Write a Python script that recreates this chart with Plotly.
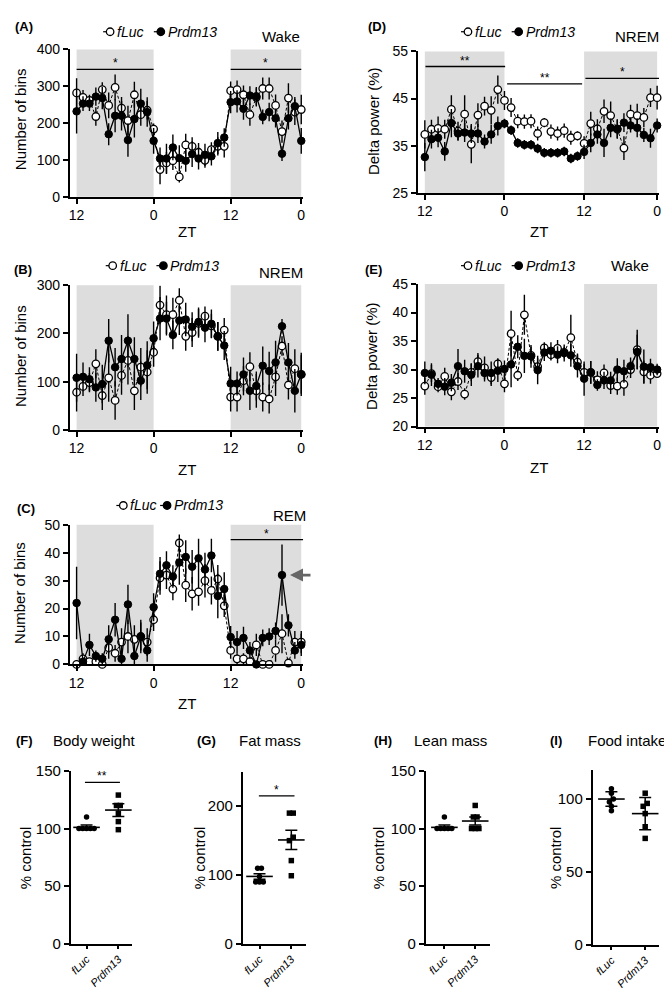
import plotly.graph_objects as go

W, H = 672, 992
FONT = "Liberation Sans, Arial, Helvetica, sans-serif"
INK = "black"
SHADE = "#dddddd"

# ---------------- shared time axis ----------------
HOURS = list(range(36))
ZT_TICKVALS = [0, 12, 24, 35]
ZT_TICKTEXT = ["12", "0", "12", "0"]
DARK = [(0, 12), (24, 35)]

# ---------------- (A) Wake, number of bins ----------------
A_FLUC = [282, 270, 262, 218, 291, 248, 297, 241, 207, 277, 223, 235, 184,
          74, 92, 98, 54, 141, 137, 121, 99, 128, 137, 137,
          288, 291, 277, 223, 270, 294, 294, 248, 177, 268, 230, 237]
A_FLUC_SEM = [40, 20, 15, 25, 20, 35, 35, 30, 40, 35, 30, 25, 15,
              40, 30, 25, 15, 30, 25, 25, 20, 20, 25, 30,
              25, 25, 25, 30, 25, 30, 30, 30, 30, 40, 35, 40]
A_PRDM = [232, 253, 253, 272, 268, 170, 220, 220, 154, 211, 253, 230, 152,
          104, 104, 134, 105, 98, 116, 104, 114, 110, 146, 161,
          257, 259, 239, 275, 273, 217, 230, 213, 117, 213, 246, 152]
A_PRDM_SEM = [60, 20, 20, 25, 30, 30, 45, 40, 45, 50, 40, 40, 35,
              30, 40, 35, 35, 30, 35, 30, 30, 25, 30, 25,
              30, 30, 30, 25, 25, 20, 25, 25, 20, 30, 25, 35]

# ---------------- (B) NREM, number of bins ----------------
B_FLUC = [78, 90, 98, 137, 71, 108, 61, 113, 144, 81, 130, 120, 161,
          259, 239, 239, 269, 194, 202, 221, 236, 216, 194, 207,
          68, 68, 102, 131, 81, 68, 64, 110, 174, 93, 127, 115]
B_FLUC_SEM = [40, 20, 20, 30, 30, 50, 40, 40, 50, 40, 40, 45, 30,
              40, 40, 35, 25, 30, 30, 30, 20, 25, 30, 25,
              30, 30, 30, 30, 35, 30, 30, 40, 20, 30, 40, 40]
B_PRDM = [108, 110, 105, 88, 95, 185, 130, 147, 185, 147, 102, 134, 190,
          231, 231, 197, 227, 229, 214, 224, 212, 220, 194, 175,
          96, 96, 115, 81, 91, 133, 122, 140, 215, 140, 81, 115]
B_PRDM_SEM = [50, 30, 25, 30, 40, 45, 40, 50, 55, 45, 40, 50, 35,
              45, 35, 30, 30, 35, 30, 30, 30, 30, 30, 30,
              35, 25, 35, 40, 30, 40, 40, 45, 15, 40, 45, 45]

# ---------------- (C) REM, number of bins ----------------
C_FLUC = [0, 2, 1, 1, 0, 6, 4, 8, 10, 9, 10, 8, 16,
          31, 32, 27, 43.5, 28.4, 25.3, 26, 30, 26.5, 30.6, 21,
          5, 2, 2, 1, 7, 0, 0, 5, 11, 0.5, 8, 8]
C_FLUC_SEM = [0, 2, 1, 1, 1, 4, 3, 5, 6, 5, 6, 5, 4,
              6, 5, 4, 3, 6, 6, 5, 6, 5, 5, 4,
              3, 2, 2, 1, 4, 1, 1, 4, 7, 1, 4, 4]
C_PRDM = [22, 1, 7, 3, 2, 9, 16, 2, 21.5, 3, 10, 5, 20.5,
          32.5, 35.5, 31.5, 36.5, 38.5, 35, 38, 34, 39, 24.5, 27,
          9.8, 8, 9.5, 5, 0, 9.5, 10, 12, 32, 14, 5, 7]
C_PRDM_SEM = [13, 1, 4, 2, 2, 5, 6, 2, 7, 3, 5, 4, 5,
              6, 5, 4, 8, 6, 6, 7, 6, 6, 8, 6,
              4, 4, 4, 3, 1, 3, 3, 3, 11, 4, 3, 4]

# ---------------- (D) NREM delta power (%) ----------------
D_FLUC = [37.4, 38.5, 38.7, 38.5, 42.7, 38.1, 41.7, 35.3, 41.5, 43.4, 42.5, 46.9, 44.6,
          43.1, 40.2, 40.1, 40.2, 37.6, 39.9, 38.0, 37.6, 38.2, 36.7, 37.1,
          35.5, 39.7, 38.6, 42.3, 41.4, 38.5, 34.5, 41.7, 41.4, 41.0, 45.2, 45.2]
D_FLUC_SEM = [3, 2, 2.5, 2, 3, 2, 4, 4, 2.5, 2, 3, 3, 2,
              2, 1.5, 1.5, 1.5, 1.5, 1, 1.5, 1.5, 1.5, 1.5, 1,
              1.5, 2.5, 2, 2.5, 3, 2, 2.5, 2, 2.5, 2, 2, 2.5]
D_PRDM = [32.6, 36.4, 36.7, 33.8, 39.8, 37.6, 37.8, 37.6, 37.6, 35.9, 37.4, 39.2, 39.7,
          38.3, 35.6, 35.2, 35.2, 34.4, 33.5, 33.5, 33.5, 33.8, 32.3, 32.8,
          33.7, 35.6, 37.4, 35.6, 38.8, 38.6, 39.9, 39.3, 38.8, 37.3, 36.6, 39.3]
D_PRDM_SEM = [3, 2, 2, 2, 3, 1.5, 2, 2, 2, 1.5, 2, 2, 1,
              1, 1, 1, 1, 1, 1, 1, 1, 1, 1, 1,
              1.5, 2, 2, 3, 2, 2, 2, 1.5, 2, 1.5, 2, 1.5]

# ---------------- (E) Wake delta power (%) ----------------
E_FLUC = [27.1, 29.3, 27.0, 28.8, 26.1, 27.9, 25.7, 29.5, 31.4, 30.3, 28.6, 31.0, 27.5,
          36.3, 29.0, 39.6, 32.5, 30.5, 33.8, 32.6, 33.7, 33.0, 35.6, 31.3,
          29.5, 29.5, 28.2, 29.4, 27.2, 27.1, 27.4, 30.0, 33.5, 29.6, 29.0, 29.3]
E_FLUC_SEM = [1.5, 1.5, 1, 1.5, 1.5, 1.5, 1, 1.5, 1.5, 2, 1.5, 1, 1.5,
              4, 1, 3.5, 1.5, 1.5, 1, 1, 1.5, 1, 4, 1.5,
              1.5, 2, 1.5, 1.5, 1.5, 1.5, 2, 1.5, 3.5, 2, 1.5, 0.5]
E_PRDM = [29.4, 29.1, 27.5, 27.0, 27.7, 30.6, 29.7, 29.1, 30.6, 29.4, 29.4, 29.8, 30.1,
          30.9, 34.0, 32.4, 32.3, 29.9, 33.0, 33.3, 32.6, 32.9, 32.5, 30.6,
          28.4, 29.5, 27.3, 28.1, 28.1, 30.0, 29.7, 30.6, 33.1, 30.5, 30.4, 30.0]
E_PRDM_SEM = [2, 2, 1, 1.5, 1.5, 3, 2, 2, 2, 1.5, 2, 2, 1.5,
              4, 2, 3, 2, 2.5, 1.5, 1.5, 1.5, 1.5, 2, 2,
              3, 2, 1, 1.5, 1.5, 2, 2, 1.5, 3, 3, 1.5, 1]

# ---------------- (F)-(I) % control ----------------
GROUP_LABELS = ["<i>fLuc</i>", "<i>Prdm13</i>"]
F_FLUC = [110, 100, 100, 100, 100, 100]
F_PRDM = [129, 120, 120, 113, 106, 99]
F_MEAN = [101, 116]
F_SEM = [2, 5.5]
G_FLUC = [110, 110, 98, 90, 90, 90]
G_PRDM = [190, 190, 155, 150, 121, 99]
G_MEAN = [98, 151]
G_SEM = [4, 14]
H_FLUC = [110, 100, 100, 100, 100, 100]
H_PRDM = [120, 110, 110, 100, 100, 100]
H_MEAN = [101, 106.5]
H_SEM = [2, 3.5]
I_FLUC = [107, 104, 100, 98, 95, 92]
I_PRDM = [104, 97, 95, 90, 81, 73]
I_MEAN = [100, 90]
I_SEM = [5, 11]

# =====================================================================
fig = go.Figure()
axes = {}
shapes = []
annots = []

BASE_AXIS = dict(showline=True, linecolor=INK, linewidth=1.5, ticks="outside",
                 ticklen=5, tickwidth=1.5, tickcolor=INK, showgrid=False,
                 zeroline=False, tickfont=dict(family=FONT, size=14, color=INK))


def names(i):
    if i == 1:
        return "x", "y", "xaxis", "yaxis"
    return f"x{i}", f"y{i}", f"xaxis{i}", f"yaxis{i}"


def px_range(d0, d1, p0, v0, p1, v1):
    s = (p1 - p0) / (v1 - v0)
    return [v0 - (p0 - d0) / s, v0 + (d1 - p0) / s]


def make_axes(i, xd, yd, xr, yr, xextra, yextra):
    xid, yid, xn, yn = names(i)
    axes[xn] = dict(BASE_AXIS, domain=[xd[0] / W, xd[1] / W], range=xr, anchor=yid, **xextra)
    axes[yn] = dict(BASE_AXIS, domain=[1 - yd[1] / H, 1 - yd[0] / H], range=yr, anchor=xid, **yextra)
    return xid, yid


def txt(x, y, text, size=15, xanchor="center", yanchor="middle", angle=0):
    annots.append(dict(x=x / W, y=1 - y / H, xref="paper", yref="paper", text=text,
                       showarrow=False, xanchor=xanchor, yanchor=yanchor, textangle=angle,
                       font=dict(family=FONT, size=size, color=INK)))


def sig(xid, yid, x0, x1, yv, stars):
    shapes.append(dict(type="line", xref=xid, yref=yid, x0=x0, x1=x1, y0=yv, y1=yv,
                       line=dict(color=INK, width=1.3)))
    annots.append(dict(x=(x0 + x1) / 2, y=yv, xref=xid, yref=yid, text=stars, showarrow=False,
                       yanchor="bottom", yshift=-3, font=dict(family=FONT, size=12, color=INK)))


def series_trace(xid, yid, x, y, err, floor, open_marker):
    minus = [min(e, v - floor) for e, v in zip(err, y)]
    if open_marker:
        line = dict(color=INK, width=1, dash="3px,2px")
        marker = dict(symbol="circle", size=7.5, color="white", line=dict(color=INK, width=1.3))
    else:
        line = dict(color=INK, width=1.3)
        marker = dict(symbol="circle", size=7.5, color=INK, line=dict(color=INK, width=1))
    return go.Scatter(x=x, y=y, xaxis=xid, yaxis=yid, mode="lines+markers", line=line,
                      marker=marker, cliponaxis=False, hoverinfo="skip",
                      error_y=dict(type="data", symmetric=False, array=err, arrayminus=minus,
                                   color=INK, thickness=1.4, width=0))


def time_panel(i, xd, yd, yr, yticks, fluc, fluc_sem, prdm, prdm_sem, p_first, p_last):
    xr = px_range(xd[0], xd[1], p_first, 0, p_last, 35)
    xid, yid = make_axes(i, xd, yd, xr, yr,
                         dict(tickvals=ZT_TICKVALS, ticktext=ZT_TICKTEXT),
                         dict(tickvals=yticks))
    for a, b in DARK:
        shapes.append(dict(type="rect", xref=xid, yref=f"{yid} domain", x0=a, x1=b, y0=0, y1=1,
                           fillcolor=SHADE, line=dict(width=0), layer="below"))
    fig.add_trace(series_trace(xid, yid, HOURS, fluc, fluc_sem, yr[0], True))
    fig.add_trace(series_trace(xid, yid, HOURS, prdm, prdm_sem, yr[0], False))
    return xid, yid


def dodge(vals, tol, step):
    order = sorted(range(len(vals)), key=lambda k: vals[k])
    offs = [0.0] * len(vals)
    clusters = []
    for k in order:
        if clusters and vals[k] - vals[clusters[-1][-1]] <= tol:
            clusters[-1].append(k)
        else:
            clusters.append([k])
    for c in clusters:
        n = len(c)
        for j, k in enumerate(c):
            offs[k] = (j - (n - 1) / 2) * step
    return offs


def dot_panel(i, xd, yd, yr, yticks, p0, p1, fluc, prdm, mean, sem):
    xr = px_range(xd[0], xd[1], p0, 0, p1, 1)
    xid, yid = make_axes(i, xd, yd, xr, yr,
                         dict(tickvals=[0, 1], ticktext=GROUP_LABELS, tickangle=-45, ticklen=3,
                              tickfont=dict(family=FONT, size=11, color=INK)),
                         dict(tickvals=yticks, tickfont=dict(family=FONT, size=15, color=INK)))
    for g, vals, sym in ((0, fluc, "circle"), (1, prdm, "square")):
        offs = dodge(vals, yr[1] * 0.022, 0.12)
        fig.add_trace(go.Scatter(x=[g + o for o in offs], y=vals, xaxis=xid, yaxis=yid,
                                 mode="markers", cliponaxis=False, hoverinfo="skip",
                                 marker=dict(symbol=sym, size=5.5, color=INK)))
    fig.add_trace(go.Scatter(x=[0, 1], y=mean, xaxis=xid, yaxis=yid, mode="markers",
                             cliponaxis=False, hoverinfo="skip",
                             marker=dict(symbol="line-ew", size=19, color=INK,
                                         line=dict(color=INK, width=1.6)),
                             error_y=dict(type="data", array=sem, color=INK, thickness=1.5, width=6)))
    return xid, yid


# ---- time course panels ----
xa, ya = time_panel(1, (60, 295), (33, 183), [0, 400], [0, 100, 200, 300, 400],
                    A_FLUC, A_FLUC_SEM, A_PRDM, A_PRDM_SEM, 67, 293)
sig(xa, ya, 0, 12, 346, "*")
sig(xa, ya, 24, 35, 346, "*")

time_panel(2, (60, 295), (273, 420), [0, 300], [0, 100, 200, 300],
           B_FLUC, B_FLUC_SEM, B_PRDM, B_PRDM_SEM, 67, 293)

xc, yc = time_panel(3, (60, 295), (516.7, 658.7), [0, 50], [0, 10, 20, 30, 40, 50],
                    C_FLUC, C_FLUC_SEM, C_PRDM, C_PRDM_SEM, 67, 293)
sig(xc, yc, 24, 35.3, 44.7, "*")
annots.append(dict(x=32, y=C_PRDM[32], xref=xc, yref=yc, text="", showarrow=True,
                   ax=30, ay=0, arrowhead=2, arrowsize=1, arrowwidth=2.6, arrowcolor="#666666",
                   standoff=8))

xd_, yd_ = time_panel(4, (410, 653), (35, 179), [25, 55], [25, 35, 45, 55],
                      D_FLUC, D_FLUC_SEM, D_PRDM, D_PRDM_SEM, 417.3, 651)
sig(xd_, yd_, 0.1, 12.1, 51.8, "**")
sig(xd_, yd_, 12.4, 23.7, 48.1, "**")
sig(xd_, yd_, 24.2, 35.3, 49.3, "*")

time_panel(5, (410, 653), (271.7, 416.7), [20, 45], [20, 25, 30, 35, 40, 45],
           E_FLUC, E_FLUC_SEM, E_PRDM, E_PRDM_SEM, 417.3, 651)

# ---- dot panels ----
xf, yf = dot_panel(6, (61, 123), (767, 943), [0, 150], [0, 50, 100, 150], 77, 109,
                   F_FLUC, F_PRDM, F_MEAN, F_SEM)
sig(xf, yf, -0.05, 1.05, 140, "**")
xg, yg = dot_panel(7, (234, 298), (768, 943), [0, 250], [0, 100, 200], 251, 283,
                   G_FLUC, G_PRDM, G_MEAN, G_SEM)
sig(xg, yg, -0.02, 1.1, 215, "*")
dot_panel(8, (418, 483), (767, 943), [0, 150], [0, 50, 100, 150], 437, 468,
          H_FLUC, H_PRDM, H_MEAN, H_SEM)
dot_panel(9, (586, 653), (766, 944), [0, 120], [0, 50, 100], 605, 639,
          I_FLUC, I_PRDM, I_MEAN, I_SEM)

# ---- pixel overlay axis for legend glyphs ----
axes["xaxis10"] = dict(domain=[0, 1], range=[0, W], visible=False, anchor="y10")
axes["yaxis10"] = dict(domain=[0, 1], range=[H, 0], visible=False, anchor="x10")


def legend(y, x_open, x_fill):
    for xm, filled in ((x_open, False), (x_fill, True)):
        fig.add_trace(go.Scatter(x=[xm - 7, xm], y=[y, y], xaxis="x10", yaxis="y10",
                                 mode="lines", line=dict(color=INK, width=1.2), hoverinfo="skip"))
        fig.add_trace(go.Scatter(x=[xm], y=[y], xaxis="x10", yaxis="y10", mode="markers",
                                 hoverinfo="skip",
                                 marker=dict(symbol="circle", size=7.5,
                                             color=INK if filled else "white",
                                             line=dict(color=INK, width=1.3))))
    txt(x_open + 5, y, "<i>fLuc</i>", 14, "left")
    txt(x_fill + 5, y, "<i>Prdm13</i>", 14, "left")


legend(15, 100.7, 151.7)
legend(253, 103.3, 154.3)
legend(497, 114, 158)
legend(15, 460.7, 511.7)
legend(253, 460.7, 511.7)

# ---- panel letters, titles ----
for lx, ly, lt in ((3, 10, "(A)"), (2, 257, "(B)"), (5, 500, "(C)"), (358, 10, "(D)"),
                   (355, 257, "(E)"), (4, 736, "(F)"), (186, 736, "(G)"), (364, 736, "(H)"),
                   (541, 736, "(I)")):
    txt(lx, ly, f"<b>{lt}</b>", 13, "left")

txt(294, 20, "Wake", 15, "right")
txt(297, 260, "NREM", 15, "right")
txt(300, 507, "REM", 15, "right")
txt(655, 20, "NREM", 15, "right")
txt(645, 253, "Wake", 15, "right")

txt(10, 104, "Number of bins", 15, angle=-90)
txt(10, 345, "Number of bins", 15, angle=-90)
txt(10, 586, "Number of bins", 15, angle=-90)
txt(365, 106, "Delta power (%)", 15, angle=-90)
txt(363, 345, "Delta power (%)", 15, angle=-90)
for cx in (15, 190, 371, 549):
    txt(cx, 855, "% control", 15, angle=-90)

for zx, zy in ((178, 218), (178, 460), (178, 698), (532, 218), (532, 458)):
    txt(zx, zy, "ZT", 15)

txt(41, 736, "Body weight", 15, "left")
txt(228, 736, "Fat mass", 15, "left")
txt(404, 736, "Lean mass", 15, "left")
txt(579, 736, "Food intake", 15, "left")

fig.update_layout(width=W, height=H, margin=dict(l=0, r=0, t=0, b=0),
                  paper_bgcolor="white", plot_bgcolor="rgba(0,0,0,0)",
                  showlegend=False, shapes=shapes, annotations=annots,
                  font=dict(family=FONT, color=INK), **axes)

fig.write_html("out.html")
